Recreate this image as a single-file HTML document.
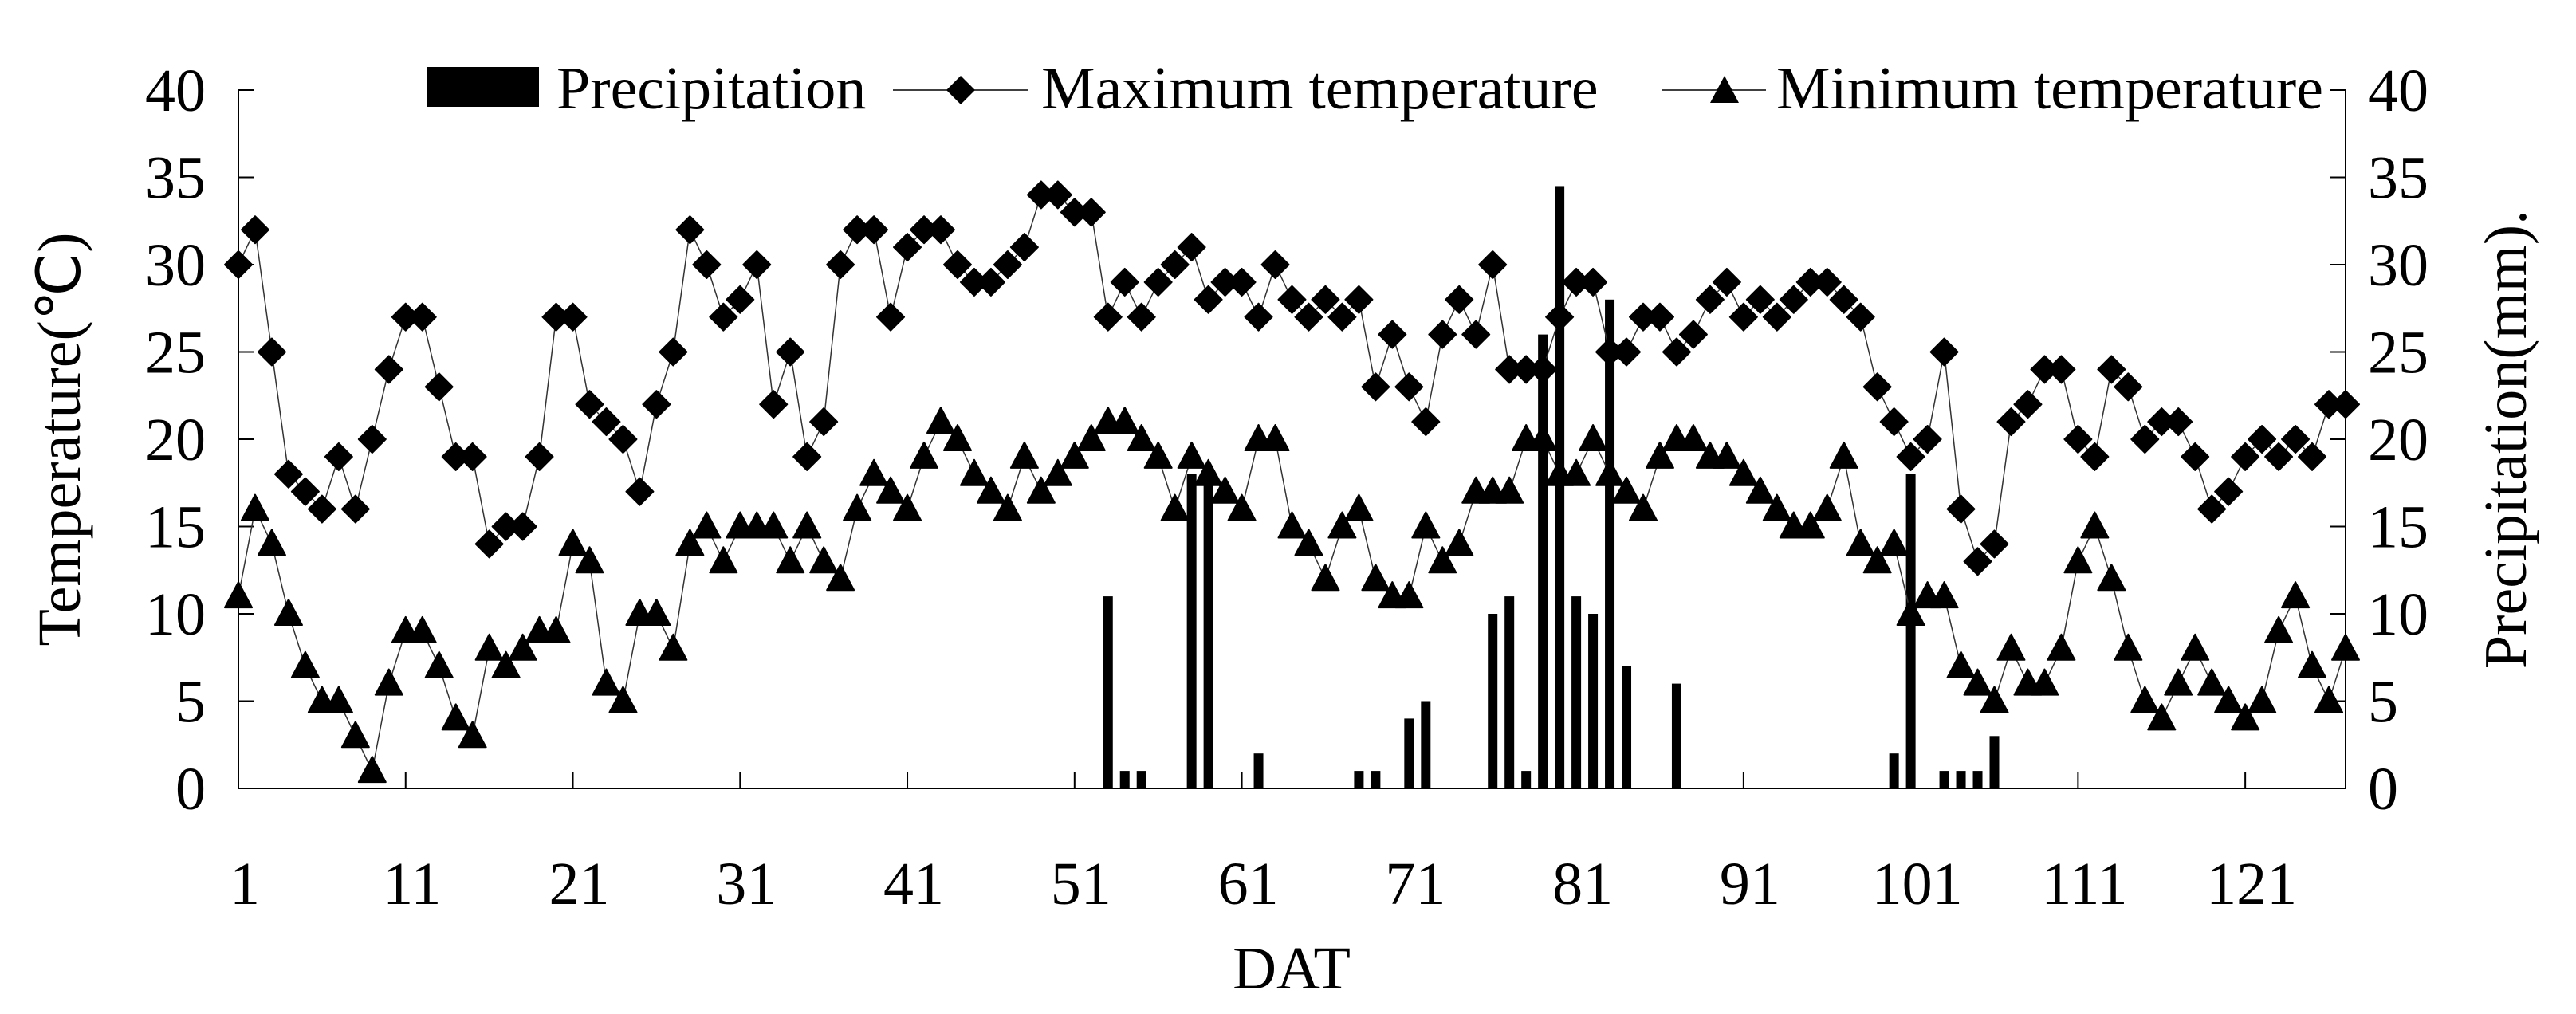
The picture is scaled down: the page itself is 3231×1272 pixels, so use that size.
<!DOCTYPE html>
<html><head><meta charset="utf-8"><style>
html,body{margin:0;padding:0;background:#fff;}
svg{display:block;font-family:"Liberation Serif",serif;}
</style></head><body>
<svg id="chart" width="3231" height="1272" viewBox="0 0 3231 1272" xmlns="http://www.w3.org/2000/svg">
<g id="axes"></g>
<g id="bars"></g>
<g id="lines"></g>
<g id="legend">
  <rect x="536" y="84" width="140" height="50" fill="#000"/>
  <text x="698" y="136" font-size="76">Precipitation</text>
  <line x1="1120" y1="113" x2="1290" y2="113" stroke="#000" stroke-width="1.5"/>
  <path d="M1205 95 L1223 113 L1205 131 L1187 113 Z" fill="#000"/>
  <text x="1306" y="136" font-size="76">Maximum temperature</text>
  <line x1="2085" y1="113" x2="2215" y2="113" stroke="#000" stroke-width="1.5"/>
  <path d="M2163 95 L2181 129 L2145 129 Z" fill="#000"/>
  <text x="2228" y="136" font-size="76">Minimum temperature</text>
</g>
<text transform="translate(100,551) rotate(-90)" text-anchor="middle" font-size="76">Temperature(℃)</text>
<text transform="translate(3168,551) rotate(-90)" text-anchor="middle" font-size="76">Precipitation(mm).</text>
<text x="1620" y="1240" text-anchor="middle" font-size="76">DAT</text>
</svg>
<script>
const maxTemp=[30,32,25,18,17,16,19,16,20,24,27,27,23,19,19,14,15,15,19,27,27,22,21,20,17,22,25,32,30,27,28,30,22,25,19,21,30,32,32,27,31,32,32,30,29,29,30,31,34,34,33,33,27,29,27,29,30,31,28,29,29,27,30,28,27,28,27,28,23,26,23,21,26,28,26,30,24,24,24,27,29,29,25,25,27,27,25,26,28,29,27,28,27,28,29,29,28,27,23,21,19,20,25,16,13,14,21,22,24,24,20,19,24,23,20,21,21,19,16,17,19,20,19,20,19,22,22];
const minTemp=[11,16,14,10,7,5,5,3,1,6,9,9,7,4,3,8,7,8,9,9,14,13,6,5,10,10,8,14,15,13,15,15,15,13,15,13,12,16,18,17,16,19,21,20,18,17,16,19,17,18,19,20,21,21,20,19,16,19,18,17,16,20,20,15,14,12,15,16,12,11,11,15,13,14,17,17,17,20,20,18,18,20,18,17,16,19,20,20,19,19,18,17,16,15,15,16,19,14,13,14,10,11,11,7,6,5,8,6,6,8,13,15,12,8,5,4,6,8,6,5,4,5,9,11,7,5,8];
const precipDays=[53,54,55,58,59,62,68,69,71,72,76,77,78,79,80,81,82,83,84,87,100,101,103,104,105,106];
const precipVals=[11,1,1,18,18,2,1,1,4,5,10,11,1,26,34.5,11,10,28,7,6,2,18,1,1,1,3];
const yTicks=[0,5,10,15,20,25,30,35,40];
const xLabels=[1,11,21,31,41,51,61,71,81,91,101,111,121];

const NS='http://www.w3.org/2000/svg';
const L=299,R=2942,Y0=989,Y40=113,N=127;
const xs=d=>L+(d-1)*(R-L)/(N-1);
const ys=v=>Y0+(Y40-Y0)*v/40;
function mk(tag,attrs,parent,txt){const e=document.createElementNS(NS,tag);for(const k in attrs)e.setAttribute(k,attrs[k]);if(txt!==undefined)e.textContent=txt;parent.appendChild(e);return e;}
const axes=document.getElementById('axes');
let e;
e=mk('path',{d:`M${L} ${Y40} L${L} ${Y0} L${R} ${Y0} L${R} ${Y40}`,fill:'none',stroke:'#000','stroke-width':2},axes);


yTicks.forEach(v=>{
  e=mk('line',{x1:L,x2:L+20,y1:ys(v),y2:ys(v),stroke:'#000','stroke-width':2},axes);
  
  
  e=mk('line',{x1:R-20,x2:R,y1:ys(v),y2:ys(v),stroke:'#000','stroke-width':2},axes);
  
  
  e=mk('text',{x:258,y:ys(v)+26,'text-anchor':'end','font-size':76},axes,String(v));
  
  
  e=mk('text',{x:2970,y:ys(v)+26,'text-anchor':'start','font-size':76},axes,String(v));
  
  
});
xLabels.forEach(d=>{
  if(d>1){e=mk('line',{x1:xs(d),x2:xs(d),y1:Y0,y2:Y0-20,stroke:'#000','stroke-width':2},axes);
  
  }
  e=mk('text',{x:xs(d)+8,y:1134,'text-anchor':'middle','font-size':76},axes,String(d));
  
  
});
const bars=document.getElementById('bars');
precipDays.forEach((d,i)=>{
  const v=precipVals[i];
  e=mk('rect',{x:xs(d)-6,y:ys(v),width:12,height:Y0-ys(v),fill:'#000'},bars);
  
  
});
const lines=document.getElementById('lines');
function series(arr,name,marker){
  const pts=arr.map((v,i)=>`${xs(i+1)},${ys(v)}`).join(' ');
  e=mk('polyline',{points:pts,fill:'none',stroke:'#333','stroke-width':1.5},lines);
  
  
  arr.forEach((v,i)=>{
    const x=xs(i+1),y=ys(v);
    const d=marker==='diamond'?`M${x} ${y-17} L${x+17} ${y} L${x} ${y+17} L${x-17} ${y} Z`:`M${x} ${y-18} L${x+17} ${y+14} L${x-17} ${y+14} Z`;
    e=mk('path',{d:d,fill:'#000','stroke-linejoin':'round',stroke:'#000','stroke-width':2},lines);
    
    
  });
}
series(maxTemp,'max-temp','diamond');
series(minTemp,'min-temp','triangle');
</script>
</body></html>
